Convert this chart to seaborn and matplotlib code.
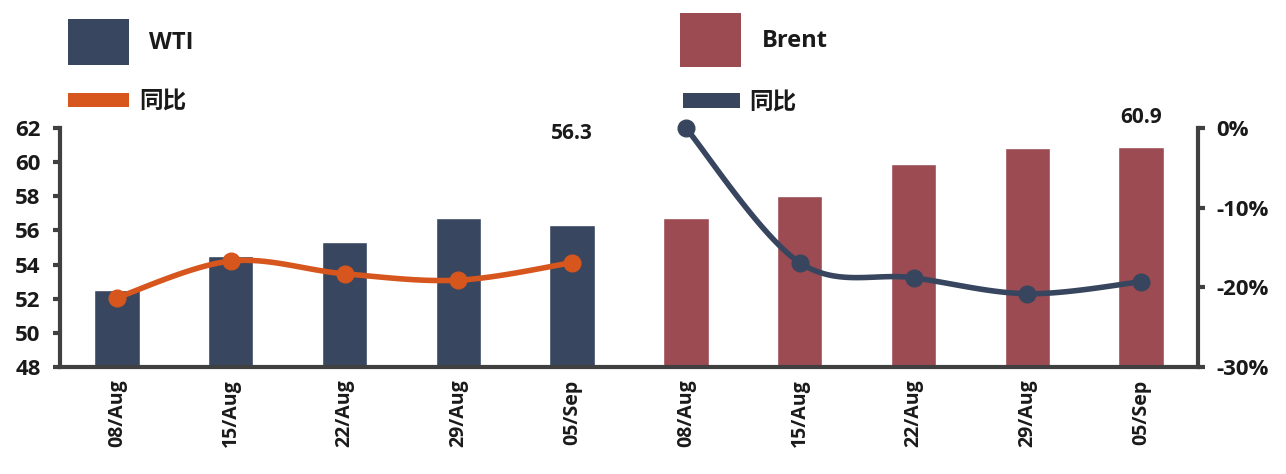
import numpy as np
import pandas as pd
import matplotlib
matplotlib.use("Agg")
import matplotlib.pyplot as plt
from matplotlib.patches import Patch
from matplotlib.ticker import FuncFormatter, FixedLocator
import seaborn as sns

# ---- data ----
dates = ["08/Aug", "15/Aug", "22/Aug", "29/Aug", "05/Sep"]
wti_price = [52.5, 54.5, 55.3, 56.7, 56.3]
brent_price = [56.7, 58.0, 59.9, 60.8, 60.9]
wti_yoy = [-21.3, -16.7, -18.3, -19.1, -16.9]
brent_yoy = [0.0, -16.9, -18.8, -20.8, -19.3]
left_ticks = [48, 50, 52, 54, 56, 58, 60, 62]
right_ticks = [0, -10, -20, -30]

# ---- style ----
sns.set_style("white")
plt.rcParams["font.family"] = ["Open Sans", "Noto Sans CJK SC", "DejaVu Sans"]
plt.rcParams["font.weight"] = "bold"

NAVY = "#38475F"
RED = "#9C4B52"
ORANGE = "#D6561E"
NAVY_LINE = "#37465E"
SPINE = "#404040"
TXT = "#1a1a1a"

labels = dates + dates
n = len(labels)
df = pd.DataFrame({
    "pos": list(range(n)),
    "value": wti_price + brent_price,
    "group": ["WTI"] * len(dates) + ["Brent"] * len(dates),
})

fig = plt.figure(figsize=(12.86, 4.74), dpi=100)
ax = fig.add_axes([60 / 1286, 1 - 367 / 474, 1138 / 1286, 239 / 474])

sns.barplot(data=df, x="pos", y="value", hue="group",
            palette={"WTI": NAVY, "Brent": RED}, dodge=False, width=0.4,
            ax=ax, legend=False, saturation=1)
ax.set_xlim(-0.5, n - 0.5)
ax.set_ylim(left_ticks[0], left_ticks[-1])
ax.set_yticks(left_ticks)
ax.set_xticks(range(n))
ax.set_xticklabels(labels, rotation=90, fontsize=14, fontweight="bold", color=TXT)
ax.xaxis.set_minor_locator(FixedLocator(np.arange(-0.5, n, 1.0)))
ax.tick_params(axis="x", which="major", length=0, pad=9)
ax.tick_params(axis="x", which="minor", length=5, width=3, color=SPINE, direction="out")
ax.tick_params(axis="y", length=5, width=3, color=SPINE, direction="out", pad=9,
               labelsize=16, labelcolor=TXT)
for lab in ax.get_yticklabels():
    lab.set_fontweight("bold")
ax.set_xlabel("")
ax.set_ylabel("")
for s in ["top", "right"]:
    ax.spines[s].set_visible(False)
for s in ["left", "bottom"]:
    ax.spines[s].set_color(SPINE)
    ax.spines[s].set_linewidth(3)

# data labels for last bars
ax.text(len(dates) - 1, 61.7, f"{wti_price[-1]:.1f}", ha="center", va="center",
        fontsize=15, fontweight="bold", color=TXT, clip_on=False)
ax.text(n - 1, 62.6, f"{brent_price[-1]:.1f}", ha="center", va="center",
        fontsize=15, fontweight="bold", color=TXT, clip_on=False)

# ---- right axis with smoothed lines ----
ax2 = ax.twinx()
ax2.set_ylim(right_ticks[-1], right_ticks[0])
ax2.set_yticks(right_ticks)
ax2.yaxis.set_major_formatter(FuncFormatter(lambda v, p: f"{v:.0f}%"))
ax2.tick_params(axis="y", length=5, width=3, color=SPINE, direction="out", pad=8,
                labelsize=16, labelcolor=TXT)
for lab in ax2.get_yticklabels():
    lab.set_fontweight("bold")
for s in ["top", "left", "bottom"]:
    ax2.spines[s].set_visible(False)
ax2.spines["right"].set_color(SPINE)
ax2.spines["right"].set_linewidth(3)


def smooth(xs, ys, steps=30):
    xs = np.asarray(xs, float)
    ys = np.asarray(ys, float)
    P = np.column_stack([xs, ys])
    out = []
    m = len(P)
    for i in range(m - 1):
        p0 = P[i - 1] if i > 0 else P[i]
        p1 = P[i]
        p2 = P[i + 1]
        p3 = P[i + 2] if i + 2 < m else P[i + 1]
        c1 = p1 + (p2 - p0) / 6.0
        c2 = p2 - (p3 - p1) / 6.0
        t = np.linspace(0, 1, steps)[:, None]
        seg = ((1 - t) ** 3) * p1 + 3 * ((1 - t) ** 2) * t * c1 + 3 * (1 - t) * t ** 2 * c2 + t ** 3 * p2
        out.append(seg if i == 0 else seg[1:])
    c = np.vstack(out)
    return c[:, 0], c[:, 1]


wx = list(range(len(dates)))
bx = list(range(len(dates), n))
sx, sy = smooth(wx, wti_yoy)
ax2.plot(sx, sy, color=ORANGE, lw=4, solid_capstyle="round", zorder=3)
ax2.plot(wx, wti_yoy, "o", color=ORANGE, ms=12, zorder=4)
sx, sy = smooth(bx, brent_yoy)
ax2.plot(sx, sy, color=NAVY_LINE, lw=4, solid_capstyle="round", zorder=3)
ax2.plot(bx, brent_yoy, "o", color=NAVY_LINE, ms=12, zorder=4, clip_on=False)

# ---- legends ----
def one_legend(color, text, x, y, hl, hh, pad):
    leg = fig.legend(handles=[Patch(facecolor=color, edgecolor="none")], labels=[text],
                     loc="center left", bbox_to_anchor=(x, y), frameon=False,
                     handlelength=hl, handleheight=hh, handletextpad=pad,
                     borderpad=0, borderaxespad=0,
                     prop={"size": 17, "weight": "bold"})
    for t in leg.get_texts():
        t.set_color(TXT)
    return leg

one_legend(NAVY, "WTI", 68 / 1286, 1 - 42 / 474, 2.6, 2.6, 0.85)
one_legend(ORANGE, "同比", 68 / 1286, 1 - 102 / 474, 2.6, 0.55, 0.4)
one_legend(RED, "Brent", 680 / 1286, 1 - 40 / 474, 2.6, 3.1, 0.85)
one_legend(NAVY_LINE, "同比", 683 / 1286, 1 - 103 / 474, 2.4, 0.6, 0.4)

fig.savefig("out.png", dpi=100)
